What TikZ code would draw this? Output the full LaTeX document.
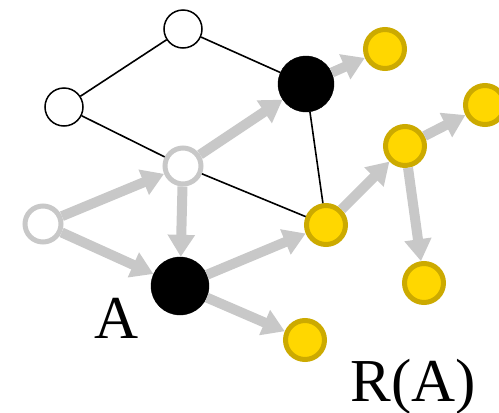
\documentclass[tikz,border=0pt]{standalone}
\usepackage{fontspec}
\setmainfont{Liberation Serif}
\usetikzlibrary{arrows.meta}
\definecolor{arrgray}{HTML}{C8C8C8}
\definecolor{gold}{HTML}{FFD700}
\definecolor{darkgold}{HTML}{CCAA00}
\tikzset{
  whitenode/.style={circle, draw=black, line width=1.5pt, fill=white, minimum size=38pt, inner sep=0pt},
  graynode/.style={circle, draw=arrgray, line width=5pt, fill=white, minimum size=36pt, inner sep=0pt},
  blacknode/.style={circle, fill=black, draw=black, minimum size=#1, inner sep=0pt},
  yellownode/.style={circle, draw=darkgold, line width=5pt, fill=gold, minimum size=39pt, inner sep=0pt},
  thinedge/.style={draw=black, line width=1.6pt},
  grayarrow/.style={draw=arrgray, line width=10pt, -{Triangle[width=26pt,length=22pt]}},
  biglabel/.style={font=\fontsize{61}{63}\selectfont, inner sep=0pt, anchor=base}
}
\begin{document}
\begin{tikzpicture}[x=1pt,y=-1pt]
\useasboundingbox (0,0) rectangle (499,413);
\clip (0,0) rectangle (499,413);
\node[whitenode] (t) at (183,29) {};
\node[whitenode] (l) at (64,107) {};
\node[graynode] (c) at (183,166) {};
\node[blacknode=56pt] (b1) at (306,84) {};
\node[yellownode] (y1) at (385,49) {};
\node[yellownode] (y2) at (485,105) {};
\node[yellownode] (y3) at (405,146) {};
\node[graynode] (g) at (43,224) {};
\node[blacknode=58pt] (a) at (180,286) {};
\node[yellownode] (y4) at (326,225) {};
\node[yellownode] (y5) at (424,283) {};
\node[yellownode] (y6) at (305,340) {};
\node[biglabel] (la) at (117,338) {A};
\node[biglabel] (lr) at (413,401) {R(A)};
\draw[thinedge] (t) -- (l);
\draw[thinedge] (t) -- (b1);
\draw[thinedge] (l) -- (c);
\draw[thinedge] (c) -- (y4);
\draw[thinedge] (b1) -- (y4);
\draw[grayarrow] (g) -- (c);
\draw[grayarrow] (g) -- (a);
\draw[grayarrow] (c) -- (a);
\draw[grayarrow] (c) -- (b1);
\draw[grayarrow] (a) -- (y4);
\draw[grayarrow] (a) -- (y6);
\draw[grayarrow] (b1) -- (y1);
\draw[grayarrow] (y4) -- (y3);
\draw[grayarrow] (y3) -- (y2);
\draw[grayarrow] (y3) -- (y5);
\end{tikzpicture}
\end{document}
